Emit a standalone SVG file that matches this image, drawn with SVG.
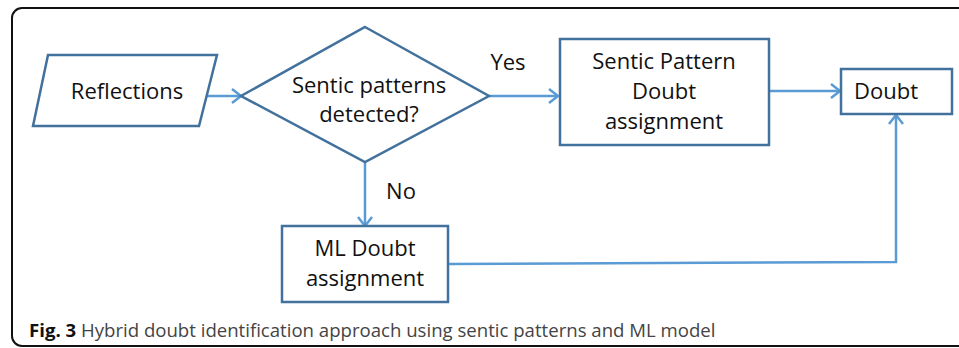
<svg xmlns="http://www.w3.org/2000/svg" width="959" height="348" viewBox="0 0 959 348">
<style>
.node{fill:#fff;stroke:#41719C;stroke-width:2.5}
.conn{fill:none;stroke:#5B9BD5;stroke-width:2.5}
.t{font-family:"Open Sans","Liberation Sans",sans-serif;font-size:22px;fill:#111;text-anchor:middle}
.cap{font-family:"Open Sans","Liberation Sans",sans-serif;font-size:18.6px;fill:#444}
</style>
<defs>
<marker id="arr" markerUnits="userSpaceOnUse" markerWidth="14" markerHeight="16" refX="11" refY="8" orient="auto">
<path d="M2,1 L11,8 L2,15" fill="none" stroke="#5B9BD5" stroke-width="2.5"/>
</marker>
</defs>
<rect x="12" y="8" width="960" height="338" rx="10" fill="#fff" stroke="#111" stroke-width="2"/>
<g id="connectors">
<line class="conn" x1="207" y1="96" x2="241" y2="96" marker-end="url(#arr)"/>
<line class="conn" x1="489" y1="96" x2="558" y2="96" marker-end="url(#arr)"/>
<line class="conn" x1="769" y1="91" x2="840" y2="91" marker-end="url(#arr)"/>
<line class="conn" x1="365" y1="162" x2="365" y2="226" marker-end="url(#arr)"/>
<polyline class="conn" points="448,264 896,262 896,115" marker-end="url(#arr)"/>
<text class="t" x="508" y="70">Yes</text>
<text class="t" x="401" y="199">No</text>
</g>
<g id="reflections">
<polygon class="node" points="48,55 217,55 199,126 33,126"/>
<text class="t" x="127" y="99">Reflections</text>
</g>
<g id="decision">
<polygon class="node" points="365,27 489,96 365,162 241,96"/>
<text class="t" x="369" y="93">Sentic patterns</text>
<text class="t" x="369" y="122">detected?</text>
</g>
<g id="sentic-box">
<rect class="node" x="560" y="39" width="209" height="106"/>
<text class="t" x="664" y="69">Sentic Pattern</text>
<text class="t" x="664" y="99">Doubt</text>
<text class="t" x="664" y="129">assignment</text>
</g>
<g id="doubt">
<rect class="node" x="841" y="69" width="111" height="45"/>
<text class="t" x="886" y="99">Doubt</text>
</g>
<g id="ml-box">
<rect class="node" x="282" y="226" width="166" height="76"/>
<text class="t" x="365" y="256">ML Doubt</text>
<text class="t" x="365" y="286">assignment</text>
</g>
<text class="cap" x="29" y="337"><tspan font-weight="bold" fill="#111">Fig. 3</tspan> Hybrid doubt identification approach using sentic patterns and ML model</text>
</svg>
